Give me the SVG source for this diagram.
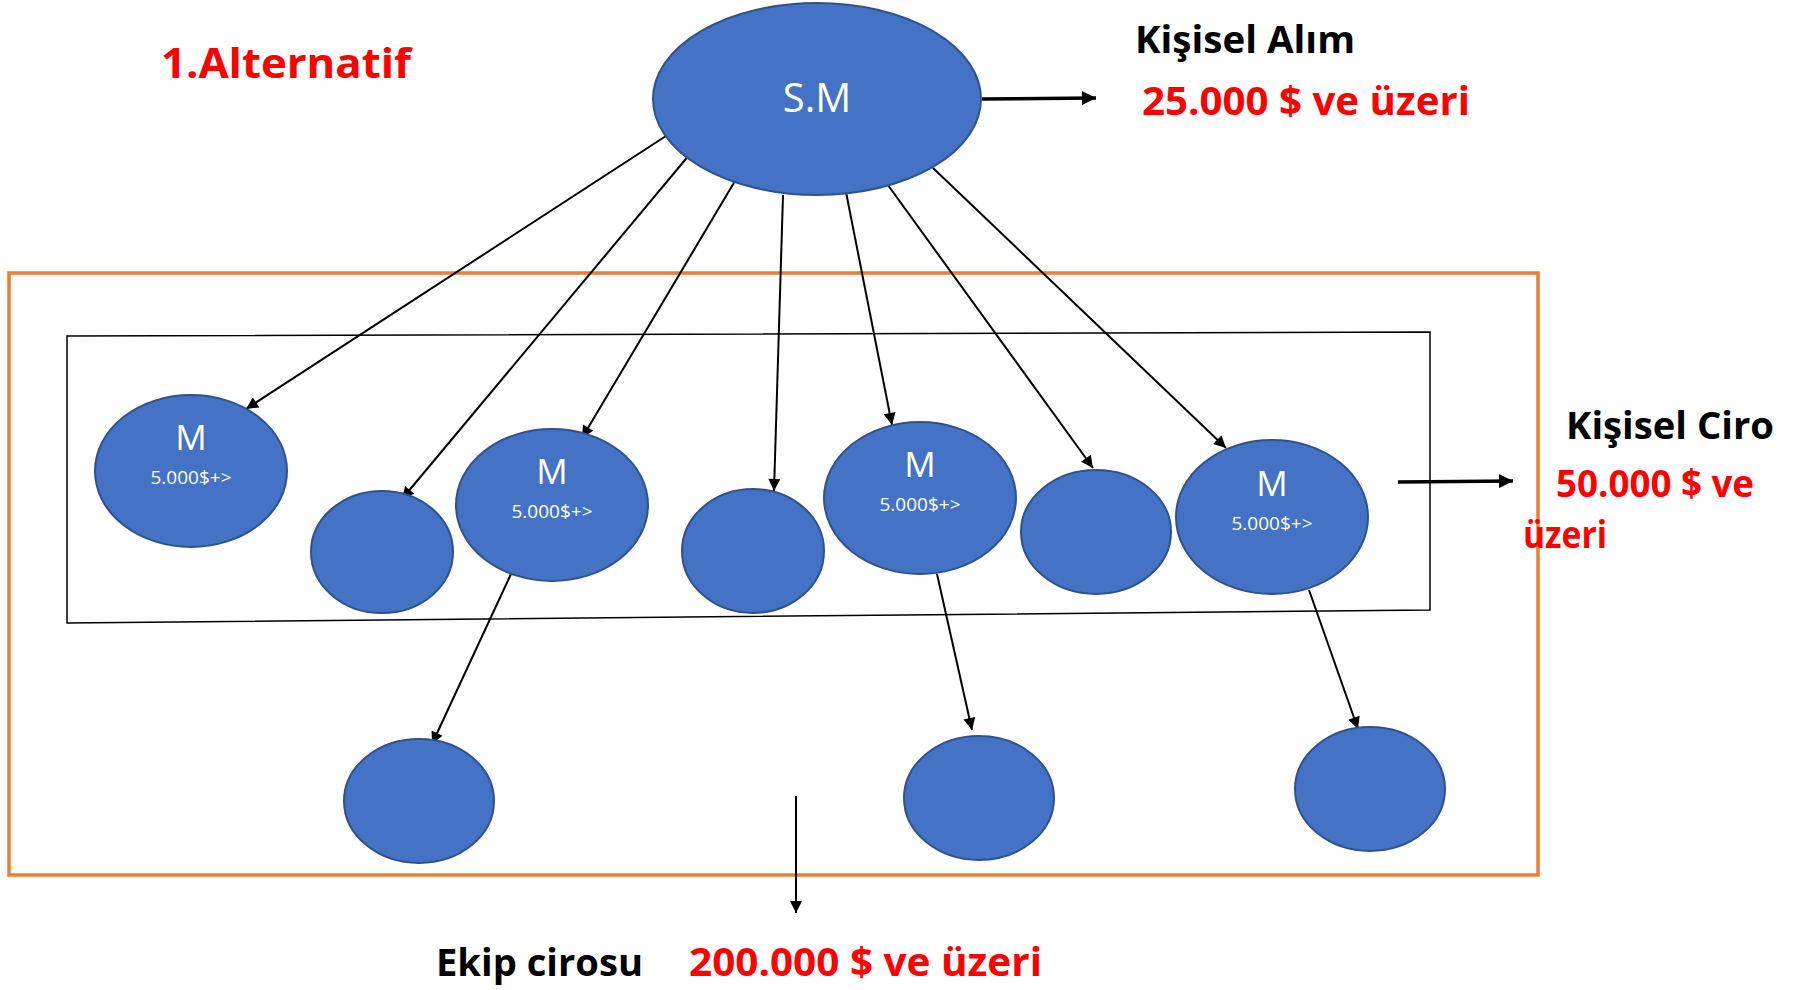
<svg xmlns="http://www.w3.org/2000/svg" width="1800" height="990" viewBox="0 0 1800 990">
<style>
.node{fill:#4472C4;stroke:#2F528F;stroke-width:2}
.con{stroke:#000;stroke-width:2;fill:none}
.thick{stroke:#000;stroke-width:3.5;fill:none}
.wt{fill:#fff;font-family:"Open Sans","Noto Sans",sans-serif;text-anchor:middle}
.bk{fill:#000;font-family:"Open Sans","Noto Sans",sans-serif;font-weight:bold}
.rd{fill:#FF0000;font-family:"Open Sans","Noto Sans",sans-serif;font-weight:bold}
</style>
<defs>
<marker id="ah" viewBox="0 0 10 10" refX="10" refY="5" markerWidth="15" markerHeight="12" markerUnits="userSpaceOnUse" orient="auto"><path d="M0,0 L10,5 L0,10 z" fill="#000"/></marker>
<marker id="ah2" viewBox="0 0 10 10" refX="10" refY="5" markerWidth="15" markerHeight="14" markerUnits="userSpaceOnUse" orient="auto"><path d="M0,0 L10,5 L0,10 z" fill="#000"/></marker>
</defs>
<rect width="1800" height="990" fill="#fff"/>
<g id="frames">
<rect x="9" y="273" width="1529" height="602" fill="none" stroke="#ED7D31" stroke-width="3.5"/>
<polygon points="67,336 1430,332 1430,610 67,623" fill="none" stroke="#000" stroke-width="1.5"/>
</g>
<g id="title"><text x="161" y="78" class="rd" font-size="42" textLength="250" lengthAdjust="spacingAndGlyphs">1.Alternatif</text></g>
<g id="connectors">
<line class="con" x1="669" y1="134" x2="246" y2="409" marker-end="url(#ah)"/>
<line class="con" x1="690" y1="154" x2="402" y2="499" marker-end="url(#ah)"/>
<line class="con" x1="735" y1="181" x2="582" y2="438" marker-end="url(#ah)"/>
<line class="con" x1="783" y1="195" x2="774" y2="491" marker-end="url(#ah)"/>
<line class="con" x1="845" y1="187" x2="892" y2="425" marker-end="url(#ah)"/>
<line class="con" x1="885" y1="181" x2="1093" y2="468" marker-end="url(#ah)"/>
<line class="con" x1="933" y1="168" x2="1226" y2="448" marker-end="url(#ah)"/>
<line class="con" x1="511" y1="574" x2="432" y2="744" marker-end="url(#ah)"/>
<line class="con" x1="937" y1="574" x2="972" y2="730" marker-end="url(#ah)"/>
<line class="con" x1="1309" y1="590" x2="1358" y2="729" marker-end="url(#ah)"/>
<line class="thick" x1="982" y1="99" x2="1096" y2="98" marker-end="url(#ah2)"/>
<line class="thick" x1="1398" y1="482" x2="1513" y2="481" marker-end="url(#ah2)"/>
<line class="con" x1="796" y1="796" x2="796" y2="913" marker-end="url(#ah)"/>
</g>
<g id="sm"><ellipse class="node" cx="817" cy="99" rx="164" ry="96"/><text class="wt" x="817" y="112" font-size="40">S.M</text></g>
<g id="m1"><ellipse class="node" cx="191" cy="471" rx="96" ry="76"/><text class="wt" x="191" y="450" font-size="35">M</text><text class="wt" x="191" y="484" font-size="19">5.000$+&gt;</text></g>
<g id="c1"><ellipse class="node" cx="382" cy="552" rx="71" ry="61"/></g>
<g id="m2"><ellipse class="node" cx="552" cy="505" rx="96" ry="76"/><text class="wt" x="552" y="484" font-size="35">M</text><text class="wt" x="552" y="518" font-size="19">5.000$+&gt;</text></g>
<g id="c2"><ellipse class="node" cx="753" cy="551" rx="71" ry="62"/></g>
<g id="m3"><ellipse class="node" cx="920" cy="498" rx="96" ry="76"/><text class="wt" x="920" y="477" font-size="35">M</text><text class="wt" x="920" y="511" font-size="19">5.000$+&gt;</text></g>
<g id="c3"><ellipse class="node" cx="1096" cy="532" rx="75" ry="62"/></g>
<g id="m4"><ellipse class="node" cx="1272" cy="517" rx="96" ry="77"/><text class="wt" x="1272" y="496" font-size="35">M</text><text class="wt" x="1272" y="530" font-size="19">5.000$+&gt;</text></g>
<g id="b1"><ellipse class="node" cx="419" cy="801" rx="75" ry="62"/></g>
<g id="b2"><ellipse class="node" cx="979" cy="798" rx="75" ry="62"/></g>
<g id="b3"><ellipse class="node" cx="1370" cy="789" rx="75" ry="62"/></g>
<g id="labels">
<text class="bk" x="1135" y="53" font-size="37" textLength="220" lengthAdjust="spacingAndGlyphs">Kişisel Alım</text>
<text class="rd" x="1142" y="115" font-size="40" textLength="328" lengthAdjust="spacingAndGlyphs">25.000 $ ve üzeri</text>
<text class="bk" x="1566" y="439" font-size="37" textLength="208" lengthAdjust="spacingAndGlyphs">Kişisel Ciro</text>
<text class="rd" x="1556" y="497" font-size="38" textLength="198" lengthAdjust="spacingAndGlyphs">50.000 $ ve</text>
<text class="rd" x="1523" y="548" font-size="38" textLength="84" lengthAdjust="spacingAndGlyphs">üzeri</text>
<text class="bk" x="436" y="976" font-size="37" textLength="207" lengthAdjust="spacingAndGlyphs">Ekip cirosu</text>
<text class="rd" x="689" y="976" font-size="40" textLength="353" lengthAdjust="spacingAndGlyphs">200.000 $ ve üzeri</text>
</g>
</svg>
